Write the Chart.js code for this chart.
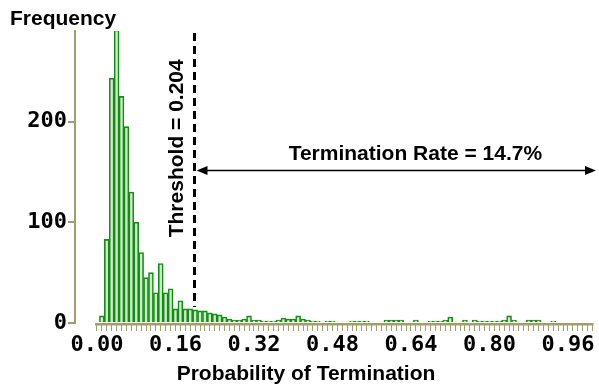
<!DOCTYPE html>
<html><head><meta charset="utf-8">
<script src="https://cdn.jsdelivr.net/npm/chart.js@4.4.1/dist/chart.umd.min.js"></script>
<style>html,body{margin:0;padding:0;background:#fff}#wrap{width:599px;height:387px;position:relative}</style>
</head><body><div id="wrap"><canvas id="c" width="599" height="387"></canvas></div>
<script>
// ---- data ----
const binWidth = 0.01;
const firstMidpoint = 0.01;
const counts = [7,83,243,291,225,195,130,100,70,45,50,30,59,30,34,14,22,14,14,13,12,12,
  10,9,8,6,4,3,3,4,7,3,3,2,2,2,3,5,4,4,7,4,3,2,2,0,2,2,1,1,1,2,2,2,2,1,0,1,3,3,3,3,0,1,3,1,1,2,2,2,3,6,1,1,3,1,3,2,2,2,2,2,3,7,3,1,1,3,3,3,1,1,2];
const xTickValues = [0, 0.16, 0.32, 0.48, 0.64, 0.80, 0.96];
const xTickLabels = ['0.00','0.16','0.32','0.48','0.64','0.80','0.96'];
const yTickValues = [0, 100, 200];
const yTickLabels = ['0','100','200'];
const thresholdText = 'Threshold = 0.204';
const thresholdDrawnAt = 0.197;   // where the dashed line sits in the picture
const rateText = 'Termination Rate = 14.7%';
const xTitle = 'Probability of Termination';
const yTitle = 'Frequency';

const binMid = counts.map((_, i) => +(firstMidpoint + i * binWidth).toFixed(2));
const points = counts.map((c, i) => ({x: binMid[i], y: c === 0 ? null : c}));
const minorTicks = [];
for (let k = 0; k <= 101; k++) minorTicks.push(+(k * binWidth).toFixed(2));

const TAN = '#a29d6b';
const GREEN = '#128f12';
const FILL = '#d2e7cf';
const monoFont = {family: "'DejaVu Sans Mono', monospace", size: 22, weight: 'bold', lineHeight: 1.2};
const labelFont = "bold 21px 'Liberation Sans', Arial, sans-serif";

const decor = {
  id: 'decor',
  beforeDatasetsDraw(chart) {
    const {ctx, chartArea, scales: {x}} = chart;
    ctx.save();
    ctx.fillStyle = TAN;
    const x0 = x.getPixelForValue(-0.004), x1 = x.getPixelForValue(1.012);
    ctx.fillRect(x0, chartArea.bottom, x1 - x0, 2.5);
    ctx.restore();
  },
  afterDatasetsDraw(chart) {
    const {ctx, chartArea, scales: {x, y}} = chart;
    ctx.save();
    const lx = Math.round(x.getPixelForValue(thresholdDrawnAt)) + 0.5;
    ctx.strokeStyle = '#000';
    ctx.lineWidth = 3;
    ctx.setLineDash([8, 5]);
    ctx.beginPath();
    ctx.moveTo(lx, y.getPixelForValue(288));
    ctx.lineTo(lx, y.getPixelForValue(16));
    ctx.stroke();
    ctx.setLineDash([]);
    const ay = Math.round(y.getPixelForValue(152)) + 0.5;
    const ax0 = lx + 2, ax1 = chartArea.right - 1;
    ctx.lineWidth = 1.5;
    ctx.beginPath();
    ctx.moveTo(ax0 + 8, ay); ctx.lineTo(ax1 - 8, ay); ctx.stroke();
    ctx.fillStyle = '#000';
    ctx.beginPath();
    ctx.moveTo(ax0, ay); ctx.lineTo(ax0 + 11, ay - 4.5); ctx.lineTo(ax0 + 11, ay + 4.5); ctx.closePath(); ctx.fill();
    ctx.beginPath();
    ctx.moveTo(ax1, ay); ctx.lineTo(ax1 - 11, ay - 4.5); ctx.lineTo(ax1 - 11, ay + 4.5); ctx.closePath(); ctx.fill();
    ctx.font = labelFont;
    ctx.textAlign = 'center';
    ctx.textBaseline = 'middle';
    ctx.fillText(rateText, x.getPixelForValue(0.649), y.getPixelForValue(167.6));
    ctx.fillText(xTitle, x.getPixelForValue(0.426), chartArea.bottom + 51);
    ctx.save();
    ctx.translate(x.getPixelForValue(0.175), y.getPixelForValue(173.5));
    ctx.rotate(-Math.PI / 2);
    ctx.textBaseline = 'alphabetic';
    ctx.fillText(thresholdText, 0, 0);
    ctx.restore();
    ctx.restore();
  }
};

new Chart(document.getElementById('c'), {
  type: 'bar',
  data: {
    datasets: [{
      data: points,
      backgroundColor: FILL,
      borderColor: GREEN,
      borderWidth: 1.6,
      barPercentage: 1,
      categoryPercentage: 1
    }]
  },
  options: {
    responsive: false,
    animation: false,
    devicePixelRatio: 1,
    layout: {padding: {left: 10, right: 2, top: 0, bottom: 0}},
    plugins: {
      legend: {display: false},
      tooltip: {enabled: false},
      title: {
        display: true, text: yTitle, align: 'start', color: '#000',
        font: {family: "'Liberation Sans', Arial, sans-serif", size: 21, weight: 'bold', lineHeight: 1.0},
        padding: {top: 9, bottom: 1}
      }
    },
    scales: {
      x: {
        type: 'linear', min: -0.0448, max: 1.0192, offset: false,
        border: {display: false},
        grid: {drawOnChartArea: false, drawTicks: true, tickLength: 8, color: TAN, lineWidth: 1, offset: false},
        afterBuildTicks: (s) => { s.ticks = minorTicks.map(v => ({value: v})); },
        afterFit: (s) => { s.height = 64; },
        ticks: {
          autoSkip: false, maxRotation: 0, minRotation: 0, padding: 1, color: '#000', font: monoFont,
          callback: (v) => { const i = xTickValues.findIndex(t => Math.abs(t - v) < 1e-6); return i >= 0 ? xTickLabels[i] : ''; }
        }
      },
      y: {
        type: 'linear', min: 0, max: 290,
        border: {display: true, color: TAN, width: 2},
        grid: {drawOnChartArea: false, drawTicks: true, tickLength: 7, color: TAN, lineWidth: 2},
        afterBuildTicks: (s) => { s.ticks = yTickValues.map(v => ({value: v})); },
        afterFit: (s) => { s.width = 65; },
        ticks: {
          autoSkip: false, padding: 1, color: '#000', font: {...monoFont},
          callback: (v) => { const i = yTickValues.indexOf(v); return i >= 0 ? yTickLabels[i] : ''; }
        }
      }
    }
  },
  plugins: [decor]
});
</script></body></html>
